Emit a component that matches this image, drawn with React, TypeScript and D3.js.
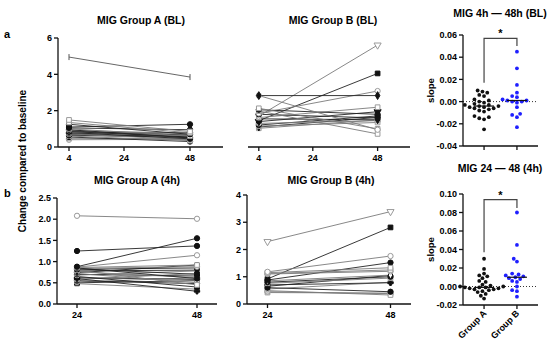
import React from 'react';
import * as d3 from 'd3';

// time points (hours)
const hoursBL = [4, 48];
const hours4h = [24, 48];
const ticksBL = [4, 24, 48];
const ticks4h = [24, 48];

// change compared to baseline, Group A (BL)
const aBLat4 = [4.95, 1.49, 1.35, 1.25, 1.1, 1.05, 1.0, 0.95, 0.92, 0.88, 0.85, 0.82, 0.8, 0.78, 0.75, 0.72, 0.7, 0.65, 0.6, 0.55, 0.48, 0.4];
const aBLat48 = [3.85, 0.85, 0.78, 0.7, 1.25, 0.95, 0.6, 0.5, 0.75, 0.65, 0.55, 0.7, 0.45, 0.62, 0.8, 0.4, 0.58, 0.52, 0.35, 0.3, 0.45, 0.42];

// Group B (BL)
const bBLat4 = [2.83, 2.83, 2.13, 2.05, 1.98, 1.85, 1.8, 1.7, 1.62, 1.55, 1.45, 1.4, 1.3, 1.21, 1.15, 1.1, 1.03];
const bBLat48 = [2.83, 0.95, 1.0, 1.8, 0.72, 3.08, 1.6, 5.61, 2.19, 1.5, 4.05, 1.94, 1.45, 1.71, 1.35, 1.63, 1.49];

// Group A (4h)
const a4hAt24 = [2.08, 1.25, 0.88, 0.87, 0.86, 0.85, 0.84, 0.83, 0.82, 0.8, 0.78, 0.76, 0.74, 0.72, 0.7, 0.68, 0.65, 0.62, 0.6, 0.58, 0.55, 0.52, 0.5, 0.48];
const a4hAt48 = [2.01, 1.37, 1.55, 1.15, 0.92, 0.6, 0.88, 0.7, 0.85, 0.45, 0.8, 0.62, 0.92, 0.5, 0.66, 0.78, 0.4, 0.58, 0.3, 0.72, 0.48, 0.62, 0.55, 0.35];

// Group B (4h)
const b4hAt24 = [2.29, 1.18, 1.15, 1.12, 1.1, 0.92, 0.88, 0.85, 0.8, 0.76, 0.7, 0.65, 0.6, 0.55, 0.49, 0.45, 0.42];
const b4hAt48 = [3.39, 1.76, 1.33, 1.25, 1.2, 2.81, 1.52, 1.06, 1.0, 0.95, 0.78, 1.05, 0.45, 0.8, 0.33, 0.38, 0.4];

// slopes
const groups = ['Group A', 'Group B'];
const slopeBL_A = [0.01, 0.009, 0.008, 0.006, 0.005, 0.002, 0.001, 0.0, -0.001, -0.002, -0.003, -0.003, -0.004, -0.004, -0.005, -0.005, -0.006, -0.006, -0.007, -0.008, -0.009, -0.013, -0.014, -0.015, -0.016, -0.025];
const slopeBL_B = [0.045, 0.03, 0.015, 0.008, 0.005, 0.004, 0.002, 0.001, 0.001, 0.0, 0.0, -0.001, -0.005, -0.011, -0.012, -0.014, -0.023];
const slope4h_A = [0.03, 0.019, 0.014, 0.012, 0.011, 0.009, 0.006, 0.005, 0.002, 0.001, 0.0, 0.0, -0.001, -0.001, -0.001, -0.002, -0.002, -0.003, -0.003, -0.004, -0.005, -0.006, -0.008, -0.01, -0.013];
const slope4h_B = [0.08, 0.045, 0.03, 0.027, 0.014, 0.013, 0.012, 0.011, 0.01, 0.009, 0.008, 0.006, 0.005, 0.0, -0.004, -0.005, -0.011];

// marker styles per subject
const stylesABL = ['tk', 'so', 'so', 'cf', 'cf', 'cf', 'so', 'cf', 'co', 'df', 'sf', 'co', 'cf', 'so', 'cf', 'co', 'df', 'cf', 'so', 'cf', 'co', 'co'];
const stylesBBL = ['df', 'co', 'so', 'cf', 'so', 'co', 'cf', 'to', 'so', 'df', 'sf', 'tf', 'co', 'cf', 'so', 'df', 'so'];
const stylesA4h = ['co', 'cf', 'cf', 'co', 'so', 'cf', 'co', 'sf', 'cf', 'so', 'df', 'co', 'cf', 'so', 'cf', 'co', 'sf', 'cf', 'st', 'so', 'cf', 'co', 'sf', 'so'];
const stylesB4h = ['to', 'co', 'so', 'so', 'co', 'sf', 'cf', 'do', 'cf', 'so', 'st', 'df', 'cf', 'co', 'so', 'co', 'so'];

const FONT = '"Liberation Sans", Arial, sans-serif';
const DARK = '#111';
const GRAY = '#9a9a9a';

const minusFmt = (f: (n: number) => string) => (v: number) => f(v).replace('\u2212', '-');

function Marker({ kind, x, y }: { kind: string; x: number; y: number }) {
  const t = `translate(${x},${y})`;
  const filled = kind === 'cf' || kind === 'sf' || kind === 'df' || kind === 'tf' || kind === 'st';
  const col = filled ? DARK : GRAY;
  if (kind === 'tk') {
    return <line x1={x} x2={x} y1={y - 3} y2={y + 3} stroke="#555" strokeWidth={1} />;
  }
  let type: d3.SymbolType = d3.symbolCircle;
  let size = 22;
  let rot = 0;
  if (kind === 'so' || kind === 'sf') { type = d3.symbolSquare; size = 22; }
  if (kind === 'df' || kind === 'do') { type = d3.symbolDiamond; size = 18; }
  if (kind === 'to' || kind === 'tf') { type = d3.symbolTriangle; size = 22; rot = 180; }
  if (kind === 'st') { type = d3.symbolCross; size = 16; }
  const path = d3.symbol().type(type).size(size)() || '';
  return (
    <path d={path} transform={`${t} rotate(${rot})`}
      fill={filled ? col : '#fff'} stroke={kind === 'do' ? DARK : col} strokeWidth={1} />
  );
}

type LineProps = {
  title: string; titleX: number; titleY: number;
  hours: number[]; ticks: number[]; xDomain: [number, number]; xRange: [number, number];
  yDomain: [number, number]; yRange: [number, number]; yTicks: number[]; yFmt: (n: number) => string;
  showY: boolean; v0: number[]; v1: number[]; styles: string[];
};

function LinePanel(p: LineProps) {
  const x = d3.scaleLinear().domain(p.xDomain).range(p.xRange);
  const y = d3.scaleLinear().domain(p.yDomain).range(p.yRange);
  const line = d3.line<[number, number]>().x(d => x(d[0])).y(d => y(d[1]));
  const base = p.yRange[0];
  const order = p.v0.map((_, i) => i).reverse();
  return (
    <g>
      <text x={p.titleX} y={p.titleY} textAnchor="middle" fontFamily={FONT} fontWeight="bold" fontSize={10.5}>{p.title}</text>
      {order.map(i => {
        const filled = ['cf', 'sf', 'df', 'tf', 'st'].includes(p.styles[i % p.styles.length]);
        return (
          <path key={'l' + i} d={line([[p.hours[0], p.v0[i]], [p.hours[1], p.v1[i]]]) || ''}
            stroke={filled ? '#222' : (p.styles[i] === 'tk' ? '#555' : '#7a7a7a')} strokeWidth={0.9} fill="none" />
        );
      })}
      {order.map(i => (
        <g key={'m' + i}>
          <Marker kind={p.styles[i]} x={x(p.hours[0])} y={y(p.v0[i])} />
          <Marker kind={p.styles[i]} x={x(p.hours[1])} y={y(p.v1[i])} />
        </g>
      ))}
      <line x1={p.xRange[0]} x2={p.xRange[1]} y1={base} y2={base} stroke={DARK} strokeWidth={1.3} />
      {p.ticks.map(t => (
        <g key={'xt' + t}>
          <line x1={x(t)} x2={x(t)} y1={base} y2={base + 4} stroke={DARK} strokeWidth={1.3} />
          <text x={x(t)} y={base + 14} textAnchor="middle" fontFamily={FONT} fontWeight="bold" fontSize={9}>{t}</text>
        </g>
      ))}
      {p.showY && (
        <g>
          <line x1={p.xRange[0]} x2={p.xRange[0]} y1={p.yRange[1]} y2={base} stroke={DARK} strokeWidth={1.3} />
          {p.yTicks.map(t => (
            <g key={'yt' + t}>
              <line x1={p.xRange[0] - 4} x2={p.xRange[0]} y1={y(t)} y2={y(t)} stroke={DARK} strokeWidth={1.3} />
              <text x={p.xRange[0] - 6} y={y(t) + 3.2} textAnchor="end" fontFamily={FONT} fontWeight="bold" fontSize={9}>{p.yFmt(t)}</text>
            </g>
          ))}
        </g>
      )}
    </g>
  );
}

// simple deterministic dodge so points of a column do not overlap
function swarm(values: number[], cx: number, y: d3.ScaleLinear<number, number>, r: number) {
  const placed: { x: number; y: number; v: number }[] = [];
  const sorted = [...values].sort((a, b) => a - b);
  const step = r * 2 + 0.3;
  for (const v of sorted) {
    const py = y(v);
    for (let k = 0; k < 30; k++) {
      const off = (k % 2 === 0 ? 1 : -1) * Math.ceil(k / 2) * 1.6;
      const px = cx + off;
      if (placed.every(q => Math.hypot(q.x - px, q.y - py) >= step)) {
        placed.push({ x: px, y: py, v });
        break;
      }
    }
  }
  return placed;
}

type ScatterProps = {
  title: string; titleY: number;
  yDomain: [number, number]; yRange: [number, number]; yTicks: number[];
  a: number[]; b: number[]; bracket: [number, number, number]; labels: boolean;
};

function ScatterPanel(p: ScatterProps) {
  const xr: [number, number] = [463, 538];
  const x = d3.scalePoint<string>().domain(groups).range(xr).padding(0.64);
  const y = d3.scaleLinear().domain(p.yDomain).range(p.yRange);
  const base = p.yRange[0];
  const fmt = minusFmt(d3.format('.2f'));
  const sets = [p.a, p.b];
  const colors = [DARK, '#1f1fff'];
  const [bt, bl, br] = p.bracket.map(v => y(v));
  const xa = x(groups[0])!, xb = x(groups[1])!;
  return (
    <g>
      <text x={500} y={p.titleY} textAnchor="middle" fontFamily={FONT} fontWeight="bold" fontSize={10.5}>{p.title}</text>
      <text transform={`translate(434,${(p.yRange[0] + p.yRange[1]) / 2}) rotate(-90)`} textAnchor="middle"
        fontFamily={FONT} fontWeight="bold" fontSize={9.5}>slope</text>
      <line x1={xr[0]} x2={xr[1]} y1={y(0)} y2={y(0)} stroke="#333" strokeWidth={1} strokeDasharray="1,2" />
      {sets.map((vals, gi) => {
        const cx = x(groups[gi])!;
        const pts = swarm(vals, cx, y, 1.9);
        const med = d3.median(vals)!;
        return (
          <g key={gi}>
            {pts.map((q, i) => <circle key={i} cx={q.x} cy={q.y} r={1.9} fill={colors[gi]} />)}
            <line x1={cx - 10} x2={cx + 10} y1={y(med)} y2={y(med)} stroke={DARK} strokeWidth={1.2} />
          </g>
        );
      })}
      <path d={`M${xa},${bl}V${bt}H${xb}V${br}`} fill="none" stroke="#444" strokeWidth={1.2} />
      <text x={(xa + xb) / 2} y={bt - 1} textAnchor="middle" fontFamily={FONT} fontWeight="bold" fontSize={11}>*</text>
      <line x1={xr[0]} x2={xr[0]} y1={p.yRange[1]} y2={base} stroke={DARK} strokeWidth={1.3} />
      <line x1={xr[0]} x2={xr[1]} y1={base} y2={base} stroke={DARK} strokeWidth={1.3} />
      {p.yTicks.map(t => (
        <g key={t}>
          <line x1={xr[0] - 4} x2={xr[0]} y1={y(t)} y2={y(t)} stroke={DARK} strokeWidth={1.3} />
          <text x={xr[0] - 6} y={y(t) + 3.2} textAnchor="end" fontFamily={FONT} fontWeight="bold" fontSize={9}>{fmt(t)}</text>
        </g>
      ))}
      {groups.map(g => (
        <g key={g}>
          <line x1={x(g)!} x2={x(g)!} y1={base} y2={base + 4} stroke={DARK} strokeWidth={1.3} />
          {p.labels && (
            <text transform={`translate(${x(g)! + 3},${base + 9}) rotate(-45)`} textAnchor="end"
              fontFamily={FONT} fontWeight="bold" fontSize={9}>{g}</text>
          )}
        </g>
      ))}
    </g>
  );
}

export default function App() {
  const f0 = (n: number) => String(n);
  const f1 = minusFmt(d3.format('.1f'));
  return (
    <svg width={550} height={343} style={{ position: 'absolute', left: 0, top: 0, background: '#fff' }}>
      <rect width={550} height={343} fill="#fff" />
      <text x={4} y={38} fontFamily={FONT} fontWeight="bold" fontSize={11}>a</text>
      <text x={4} y={197} fontFamily={FONT} fontWeight="bold" fontSize={11}>b</text>
      <text transform="translate(26,161) rotate(-90)" textAnchor="middle" fontFamily={FONT} fontSize={10} fontWeight="bold">
        Change compared to baseline
      </text>

      <LinePanel title="MIG Group A (BL)" titleX={141} titleY={24} hours={hoursBL} ticks={ticksBL}
        xDomain={[0, 60]} xRange={[58, 223]} yDomain={[0, 6]} yRange={[147, 38]} yTicks={[0, 2, 4, 6]} yFmt={f0}
        showY={true} v0={aBLat4} v1={aBLat48} styles={stylesABL} />
      <LinePanel title="MIG Group B (BL)" titleX={333} titleY={24} hours={hoursBL} ticks={ticksBL}
        xDomain={[0, 60]} xRange={[248, 410]} yDomain={[0, 6]} yRange={[147, 38]} yTicks={[]} yFmt={f0}
        showY={false} v0={bBLat4} v1={bBLat48} styles={stylesBBL} />
      <LinePanel title="MIG Group A (4h)" titleX={137} titleY={184} hours={hours4h} ticks={ticks4h}
        xDomain={[20, 52]} xRange={[57, 217]} yDomain={[0, 2.5]} yRange={[304, 198]} yTicks={[0, 0.5, 1, 1.5, 2, 2.5]} yFmt={f1}
        showY={true} v0={a4hAt24} v1={a4hAt48} styles={stylesA4h} />
      <LinePanel title="MIG Group B (4h)" titleX={331} titleY={184} hours={hours4h} ticks={ticks4h}
        xDomain={[20, 52]} xRange={[247, 411]} yDomain={[0, 4]} yRange={[304, 195]} yTicks={[0, 1, 2, 3, 4]} yFmt={f0}
        showY={true} v0={b4hAt24} v1={b4hAt48} styles={stylesB4h} />

      <ScatterPanel title="MIG 4h — 48h (BL)" titleY={17} yDomain={[-0.04, 0.06]} yRange={[146, 35]}
        yTicks={[-0.04, -0.02, 0, 0.02, 0.04, 0.06]} a={slopeBL_A} b={slopeBL_B} bracket={[0.057, 0.017, 0.05]} labels={false} />
      <ScatterPanel title="MIG 24 — 48 (4h)" titleY={172} yDomain={[-0.02, 0.1]} yRange={[305, 194]}
        yTicks={[-0.02, 0, 0.02, 0.04, 0.06, 0.08, 0.1]} a={slope4h_A} b={slope4h_B} bracket={[0.094, 0.037, 0.085]} labels={true} />
    </svg>
  );
}
